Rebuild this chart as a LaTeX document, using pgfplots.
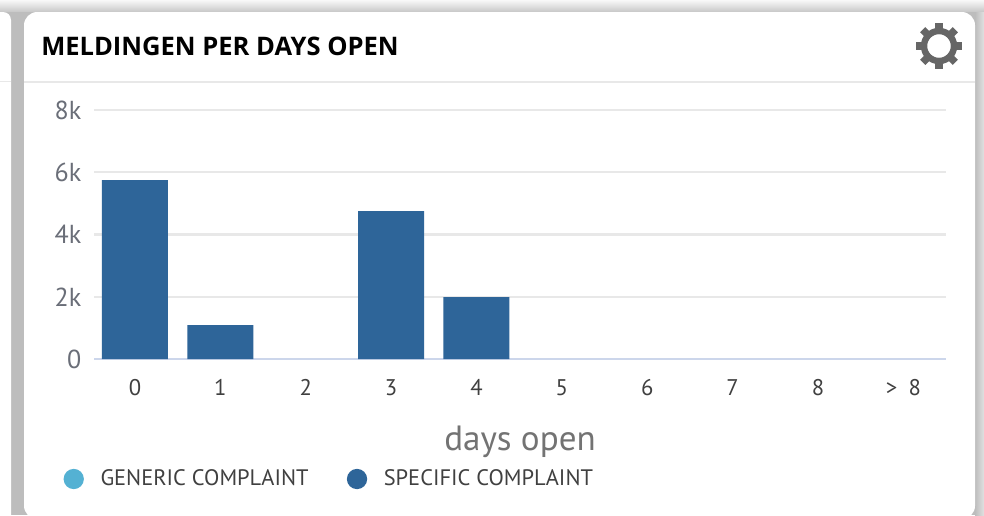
\documentclass[border=0pt]{standalone}
\usepackage{pgfplots}
\pgfplotsset{compat=1.18}
\usepackage{fontspec}
\setmainfont{PT Sans}
\newfontfamily\titlefont{Open Sans}
\definecolor{barblue}{HTML}{2E6599}
\definecolor{lightblue}{HTML}{54B1D3}
\definecolor{ticktxt}{HTML}{6A6E78}
\definecolor{gridc}{HTML}{E8E8E8}
\definecolor{basec}{HTML}{CCD6EB}
\definecolor{gutter}{HTML}{BDBDBD}
\definecolor{gearc}{HTML}{666666}
\begin{document}
\begin{tikzpicture}
\useasboundingbox (0,0) rectangle (738pt,-386.25pt);
% page furniture, in px with y downwards
\begin{scope}[x=0.75pt,y=-0.75pt]
\clip (0,0) rectangle (984,515);
\fill[white] (0,0) rectangle (984,515);
\shade[top color=white!90!gutter,bottom color=gutter!85] (0,0) rectangle (984,12);
\fill[gutter] (0,12) rectangle (984,515);
\shade[left color=gutter,right color=gutter!45] (975,12) rectangle (984,515);
\fill[white,rounded corners=6pt] (-20,12) -- (11,12) -- (11,540) -- (-20,540) -- cycle;
\fill[white,rounded corners=10pt] (24,12) -- (975,12) -- (975,519) -- (24,519) -- cycle;
\draw[gridc,line width=1.1pt] (0,81.5) -- (11,81.5);
\draw[gridc,line width=1.1pt] (24,82) -- (975,82);
\node[anchor=base west,inner sep=0,font=\titlefont\bfseries\fontsize{19.15}{22}\selectfont,text=black] at (41,55) {MELDINGEN PER DAYS OPEN};
\begin{scope}[shift={(939,46)}]
\foreach \a in {0,45,...,315}
  \fill[gearc,rotate=\a] (-3.7,-23) rectangle (3.7,-15);
\draw[gearc,line width=4.8pt] (0,0) circle (15);
\end{scope}
\end{scope}
\begin{axis}[
    at={(70.5pt,-269.25pt)},anchor=south west,
    width=639pt,height=186.75pt,
    scale only axis,
    xmin=-0.48,xmax=9.5,
    ymin=0,ymax=8000,
    ybar,bar width=49.5pt,bar shift=0pt,
    axis lines=left,
    axis line style={-,draw=basec,line width=1.6pt},
    y axis line style={draw=none},
    xtick={0,...,9},
    xticklabels={0,1,2,3,4,5,6,7,8,{>\enspace 8}},
    ytick={0,2000,4000,6000,8000},
    yticklabels={0,2k,4k,6k,8k},
    major tick length=0pt,
    ymajorgrids,
    major grid style={draw=gridc,line width=1.7pt},
    xticklabel style={font=\fontsize{17}{20}\selectfont,text=black!75,yshift=-12pt},
    yticklabel style={font=\fontsize{19.5}{22}\selectfont,text=ticktxt,xshift=-6pt},
    /pgf/number format/assume math mode=true,
    xlabel={days open},
    xlabel style={font=\fontsize{26.3}{30}\selectfont,text=black!55,yshift=-15.5pt},
    clip=false,
    legend columns=2,
    legend style={draw=none,fill=none,at={(-26pt,-90pt)},anchor=west,
      font=\fontsize{16.8}{20}\selectfont,text=black!75,
      /tikz/every odd column/.append style={column sep=10.5pt},
      /tikz/every even column/.append style={column sep=26.75pt}},
    legend cell align=left,
    legend image code/.code={\fill[#1] (0.22cm,0) circle (7.6pt);},
]
\addlegendimage{draw=none,fill=lightblue}
\addlegendentry{GENERIC COMPLAINT}
\addplot[draw=none,fill=barblue] coordinates {(0,5750) (1,1090) (3,4755) (4,1990)};
\addlegendentry{SPECIFIC COMPLAINT}
\end{axis}
\end{tikzpicture}
\end{document}
